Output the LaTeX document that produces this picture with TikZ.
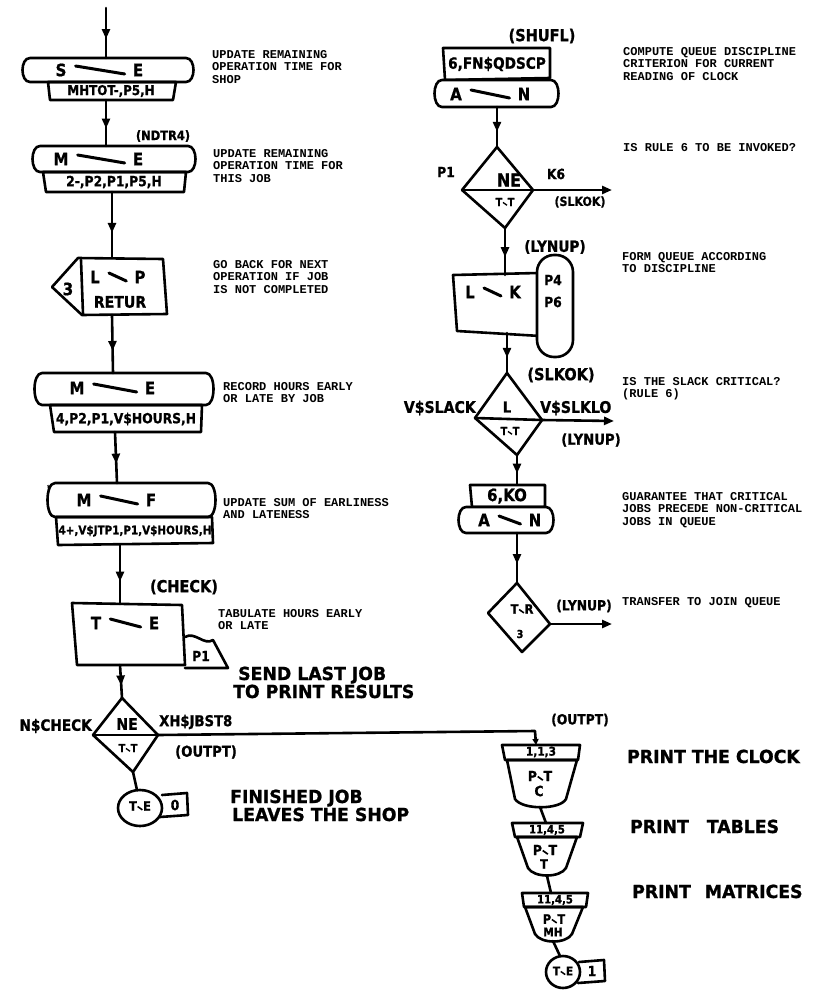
\documentclass[tikz,border=0pt]{standalone}
\usepackage{fontspec}
\usepackage{graphicx}
\usetikzlibrary{arrows.meta,decorations.markings,calc}
\newfontfamily\hand[FakeStretch=0.88,FakeBold=1]{DejaVu Sans}
\newfontfamily\handw[FakeStretch=0.96,FakeBold=1]{DejaVu Sans}
\newfontfamily\typed{Liberation Mono}
\newcommand\tbar[2]{#1\kern0.3pt\raisebox{0.25ex}{\rotatebox[origin=c]{-35}{\rule{0.45em}{0.12em}}}\kern0.3pt#2}
\newcommand\hf[1]{\hand\bfseries\fontsize{#1}{#1}\selectfont}
\tikzset{
 ln/.style={line width=2.6pt, line join=round, line cap=round},
 midarr/.style={ln, decoration={markings, mark=at position 0.62 with {\arrow{Triangle[length=10pt,width=8pt]}}}, postaction={decorate}},
 endarr/.style={ln, -{Triangle[length=10pt,width=8pt]}},
 op/.style={font=\hf{17}, inner sep=0pt},
 lbl/.style={font=\hf{12}, inner sep=0pt},
 big/.style={font=\handw\bfseries\fontsize{18}{18}\selectfont, inner sep=0pt, anchor=base west},
 tw/.style={font=\typed\bfseries\fontsize{12}{12.6}\selectfont, align=left, anchor=north west, inner sep=0pt},
}
\newcommand\stad[4]{\draw[ln,fill=white] (#1,#2) -- (#3,#2) .. controls +(10,0) and +(10,0) .. (#3,#4) -- (#1,#4) .. controls +(-10,0) and +(-10,0) .. (#1,#2);}
\newcommand\opl[6]{\node[op] (#1a) at (#2,#4) {#5}; \node[op] (#1b) at (#3,#4) {#6};
 \draw[ln,line width=3pt] ($(#1a.east)+(9,-4)$) -- ($(#1b.west)+(-8,4)$);}
\begin{document}
\begin{tikzpicture}[x=1pt,y=-1pt]
\fill[white] (0,0) rectangle (825,993);
\useasboundingbox (0,0) rectangle (825,993);

% ---------- left column ----------
\coordinate (c0) at (106,8);
\coordinate (b1t) at (106,58);
\stad{30}{58}{186}{82}
\draw[ln] (48,82) -- (176,82) -- (173,100) -- (50,100) -- cycle;
\opl{se}{61}{138}{70}{S}{E}
\node[lbl,font=\hf{13.5}] (b1l) at (111,91) {MHTOT-,P5,H};
\coordinate (b1b) at (106,100);

\coordinate (b2t) at (106,146);
\node[lbl,font=\hf{13}] (nxtr) at (163,136) {(NDTR4)};
\stad{40}{146}{188}{172}
\draw[ln] (43,172) -- (186,172) -- (184,192) -- (46,192) -- cycle;
\opl{me}{61}{138}{159}{M}{E}
\node[lbl,font=\hf{14}] (b2l) at (114,182) {2-,P2,P1,P5,H};
\coordinate (b2b) at (112,192);

\coordinate (lpt) at (112,258);
\draw[ln] (52,287) -- (78,258) -- (163,259) -- (167,314) -- (82,315) -- cycle;
\draw[ln] (81,260) -- (83,314);
\node[op] (three) at (68,289) {3};
\opl{lp}{95}{140}{277}{L}{P}
\node[op,font=\hf{16}] (retur) at (120,302) {RETUR};
\coordinate (lpb) at (112,315);

\coordinate (b3t) at (113,373);
\stad{42}{373}{206}{405}
\draw[ln] (50,405) -- (202,405) -- (201,432) -- (54,432) -- cycle;
\opl{me2}{77}{150}{388}{M}{E}
\node[lbl,font=\hf{14}] (b3l) at (126,419) {4,P2,P1,V\$HOURS,H};
\coordinate (b3b) at (115,432);

\coordinate (b4t) at (117,483);
\draw[line width=1.2pt] (48,485) -- (49,493);
\stad{55}{483}{208}{517}
\draw[ln] (56,517) -- (212,517) -- (213,543) -- (58,545) -- cycle;
\opl{mf}{84}{151}{500}{M}{F}
\node[lbl,font=\hf{11.8}] (b4l) at (135,531) {4+,V\$JTP1,P1,V\$HOURS,H};
\coordinate (b4b) at (120,545);

\node[lbl,font=\hf{16.5}] (check) at (184,587) {(CHECK)};
\coordinate (tet) at (120,604);
\draw[ln] (72,603) -- (182,605) -- (185,665) -- (77,665) -- cycle;
\draw[ln] (185,637) .. controls (195,631) and (204,646) .. (213,640) -- (228,668) -- (185,668);
\opl{te}{96}{154}{623}{T}{E}
\node[lbl,font=\hf{14}] (p1a) at (201,656) {P1};
\coordinate (teb) at (120,665);

\coordinate (d1t) at (122,698);
\draw[ln] (122,698) -- (158,735) -- (133,772) -- (93,735) -- cycle;
\draw[ln] (93,735) -- (158,735);
\node[lbl,font=\hf{16}] (ne1) at (127,724) {NE};
\node[lbl,font=\hf{11}] (tt1) at (128,748) {\tbar{T}{T}};
\node[lbl,font=\hf{15.5},anchor=east] (ncheck) at (92,726) {N\$CHECK};
\node[lbl,font=\hf{15},anchor=west] (xh) at (159,722) {XH\$JBST8};
\node[lbl,font=\hf{15},anchor=west] (outpt1) at (175,752) {(OUTPT)};
\coordinate (d1r) at (158,735);
\coordinate (d1b) at (133,772);

\coordinate (t0t) at (137,790);
\draw[ln] (162,795) -- (187,793) -- (188,815) -- (160,817);
\draw[ln,fill=white] (140,808) ellipse [x radius=22, y radius=18];
\node[lbl,font=\hf{13}] (te0) at (140,806) {\tbar{T}{E}};
\node[lbl,font=\hf{14}] (zero) at (175,805) {0};

\node[big] (send1) at (238,680) {SEND LAST JOB};
\node[big] (send2) at (233,698) {TO PRINT RESULTS};
\node[big] (fin1) at (230,803) {FINISHED JOB};
\node[big] (fin2) at (232,821) {LEAVES THE SHOP};

% typed comments left
\node[tw] (t1) at (212,50) {UPDATE REMAINING\\OPERATION TIME FOR\\SHOP};
\node[tw] (t2) at (213,149) {UPDATE REMAINING\\OPERATION TIME FOR\\THIS JOB};
\node[tw] (t3) at (213,260) {GO BACK FOR NEXT\\OPERATION IF JOB\\IS NOT COMPLETED};
\node[tw] (t4) at (223,382) {RECORD HOURS EARLY\\OR LATE BY JOB};
\node[tw] (t5) at (223,498) {UPDATE SUM OF EARLINESS\\AND LATENESS};
\node[tw] (t6) at (218,609) {TABULATE HOURS EARLY\\OR LATE};

% connectors left
\draw[midarr] (c0) -- (b1t);
\draw[midarr] (b1b) -- (b2t);
\draw[midarr] (b2b) -- (lpt);
\draw[midarr] (lpb) -- (b3t);
\draw[midarr] (b3b) -- (b4t);
\draw[midarr] (b4b) -- (tet);
\draw[midarr] (teb) -- (d1t);
\draw[ln] (d1b) -- (t0t);

% ---------- right column ----------
\node[lbl,font=\hf{16.5}] (shufl) at (542,36) {(SHUFL)};
\draw[ln] (443,48) -- (550,48) -- (550,78) -- (445,80) -- cycle;
\node[lbl,font=\hf{15.5}] (fnq) at (497,64) {6,FN\$QDSCP};
\stad{442}{80}{551}{107}
\opl{an}{456}{524}{94}{A}{N}
\coordinate (anb) at (497,107);
\coordinate (d2t) at (497,147);
\draw[ln] (497,147) -- (533,190) -- (505,228) -- (462,190) -- cycle;
\draw[ln] (462,190) -- (533,190);
\node[lbl,font=\hf{18}] (ne2) at (509,180) {NE};
\node[lbl,font=\hf{11}] (tt2) at (505,202) {\tbar{T}{T}};
\node[lbl,font=\hf{14}] (p1b) at (446,172) {P1};
\node[lbl,font=\hf{14}] (k6) at (556,174) {K6};
\coordinate (d2r) at (533,190);
\coordinate (d2e) at (612,190);
\node[lbl,font=\hf{12.5}] (slkok1) at (580,202) {(SLKOK)};
\coordinate (d2b) at (505,228);

\node[lbl,font=\hf{15.5}] (lynup1) at (555,247) {(LYNUP)};
\coordinate (lkt) at (505,275);
\draw[ln] (453,275) -- (538,273) -- (540,336) -- (457,331) -- cycle;
\opl{lk}{470}{515}{292}{L}{K}
\draw[ln,fill=white,rounded corners=17pt] (537,255) rectangle (573,357);
\node[lbl,font=\hf{14}] (p4) at (553,280) {P4};
\node[lbl,font=\hf{14}] (p6) at (553,302) {P6};
\coordinate (lkb) at (507,333);

\node[lbl,font=\hf{16.5}] (slkok2) at (561,375) {(SLKOK)};
\coordinate (d3t) at (507,373);
\draw[ln] (507,373) -- (542,420) -- (517,455) -- (475,418) -- cycle;
\draw[ln] (475,418) -- (542,420);
\node[lbl,font=\hf{15}] (l3) at (507,407) {L};
\node[lbl,font=\hf{11}] (tt3) at (510,431) {\tbar{T}{T}};
\node[lbl,font=\hf{16},anchor=east] (vslack) at (476,408) {V\$SLACK};
\node[lbl,font=\hf{16},anchor=west] (vslklo) at (540,408) {V\$SLKLO};
\coordinate (d3r) at (542,420);
\coordinate (d3e) at (614,421);
\node[lbl,font=\hf{15}] (lynup2) at (591,440) {(LYNUP)};
\coordinate (d3b) at (517,455);

\coordinate (kot) at (517,485);
\draw[ln] (470,485) -- (545,485) -- (545,507) -- (472,507) -- cycle;
\node[lbl,font=\hf{17}] (ko) at (507,496) {6,KO};
\stad{466}{507}{546}{533}
\opl{an2}{484}{535}{520}{A}{N}
\coordinate (an2b) at (517,533);

\coordinate (d4t) at (517,583);
\draw[ln] (517,583) -- (550,624) -- (522,652) -- (488,613) -- cycle;
\node[lbl,font=\hf{13}] (tr) at (522,609) {\tbar{T}{R}};
\node[lbl,font=\hf{11}] (three2) at (520,634) {3};
\coordinate (d4r) at (550,624);
\coordinate (d4e) at (612,624);
\node[lbl,font=\hf{14}] (lynup3) at (584,606) {(LYNUP)};

% typed comments right
\node[tw] (r1) at (623,47) {COMPUTE QUEUE DISCIPLINE\\CRITERION FOR CURRENT\\READING OF CLOCK};
\node[tw] (r2) at (623,143) {IS RULE 6 TO BE INVOKED?};
\node[tw] (r3) at (622,252) {FORM QUEUE ACCORDING\\TO DISCIPLINE};
\node[tw] (r4) at (622,377) {IS THE SLACK CRITICAL?\\(RULE 6)};
\node[tw] (r5) at (622,492) {GUARANTEE THAT CRITICAL\\JOBS PRECEDE NON-CRITICAL\\JOBS IN QUEUE};
\node[tw] (r6) at (622,597) {TRANSFER TO JOIN QUEUE};

% connectors right
\draw[midarr] (anb) -- (d2t);
\draw[endarr] (d2r) -- (d2e);
\draw[midarr] (d2b) -- (lkt);
\draw[midarr] (lkb) -- (d3t);
\draw[endarr] (d3r) -- (d3e);
\draw[midarr] (d3b) -- (kot);
\draw[midarr] (an2b) -- (d4t);
\draw[endarr] (d4r) -- (d4e);

% ---------- output column ----------
\node[lbl,font=\hf{14}] (outpt2) at (580,720) {(OUTPT)};
\coordinate (h1t) at (536,745);
\draw[ln] (502,745) -- (580,745) -- (578,760) -- (505,760) -- cycle;
\node[lbl,font=\hf{12}] (h1l) at (541,752) {1,1,3};
\draw[ln] (507,760) -- (577,760) -- (566,799) .. controls (560,810) and (522,810) .. (515,799) -- cycle;
\node[lbl,font=\hf{14}] (pt1) at (540,776) {\tbar{P}{T}};
\node[lbl,font=\hf{14}] (c1) at (539,791) {C};
\coordinate (c1b) at (540,807);

\coordinate (h2t) at (546,823);
\draw[ln] (512,823) -- (583,823) -- (580,837) -- (515,837) -- cycle;
\node[lbl,font=\hf{11.5}] (h2l) at (547,830) {11,4,5};
\draw[ln] (517,837) -- (577,837) -- (566,868) .. controls (560,878) and (534,878) .. (528,868) -- cycle;
\node[lbl,font=\hf{14}] (pt2) at (545,850) {\tbar{P}{T}};
\node[lbl,font=\hf{13}] (tt) at (544,864) {T};
\coordinate (c2b) at (547,876);

\coordinate (h3t) at (551,893);
\draw[ln] (522,893) -- (588,893) -- (586,907) -- (524,907) -- cycle;
\node[lbl,font=\hf{11.5}] (h3l) at (555,900) {11,4,5};
\draw[ln] (525,907) -- (583,907) -- (572,934) .. controls (566,944) and (541,944) .. (535,934) -- cycle;
\node[lbl,font=\hf{13}] (pt3) at (554,919) {\tbar{P}{T}};
\node[lbl,font=\hf{12}] (mh) at (553,932) {MH};
\coordinate (c3b) at (553,941);

\coordinate (t1t) at (560,956);
\draw[ln] (579,962) -- (604,960) -- (605,981) -- (578,983);
\draw[ln,fill=white] (563,972) ellipse [x radius=17, y radius=16];
\node[lbl,font=\hf{12}] (te1) at (563,971) {\tbar{T}{E}};
\node[lbl,font=\hf{14}] (one) at (592,971) {1};

\node[big] (pc) at (627,763) {PRINT THE CLOCK};
\node[big] (ptab) at (630,833) {PRINT\hspace{18pt}TABLES};
\node[big] (pmat) at (632,898) {PRINT\hspace{14pt}MATRICES};

\draw[ln, -{Triangle[length=6pt,width=6pt]}] (d1r) -- (535,731) -- (h1t);
\draw[ln] (c1b) -- (h2t);
\draw[ln] (c2b) -- (h3t);
\draw[ln] (c3b) -- (t1t);
\end{tikzpicture}
\end{document}
